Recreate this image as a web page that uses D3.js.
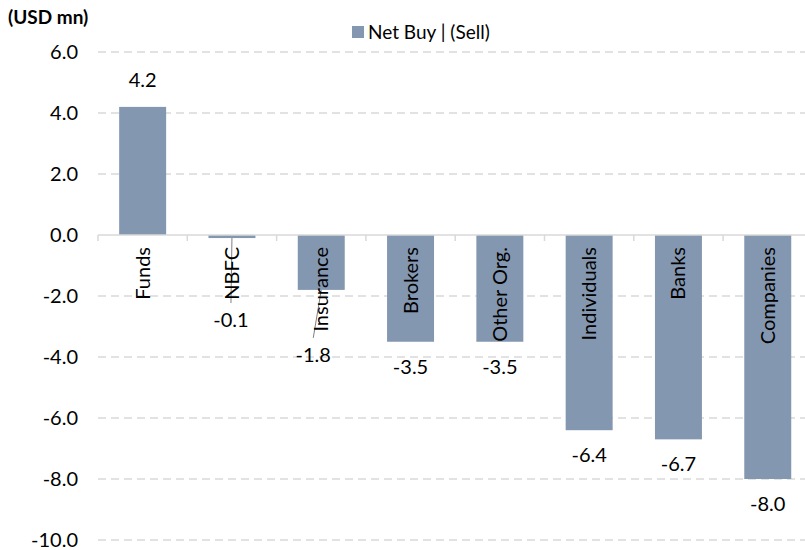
<!DOCTYPE html>
<html>
<head>
<meta charset="utf-8">
<script src="https://cdn.jsdelivr.net/npm/d3@7"></script>
<style>
  body { margin: 0; background: #fff; }
  svg { font-family: Lato, 'Open Sans', sans-serif; }
  .grid line { stroke: #d9d9d9; stroke-width: 1.5; stroke-dasharray: 8 5; }
  .tick-label { font-size: 20px; fill: #000; }
  .cat-label { font-size: 20px; fill: #000; }
  .val-label { font-size: 20px; fill: #000; }
</style>
</head>
<body>
<div id="chart"></div>
<script>
const categories = ['Funds', 'NBFC', 'Insurance', 'Brokers', 'Other Org.', 'Individuals', 'Banks', 'Companies'];
const netBuy = [4.2, -0.1, -1.8, -3.5, -3.5, -6.4, -6.7, -8.0];
const yTicks = [6, 4, 2, 0, -2, -4, -6, -8, -10];
const seriesName = 'Net Buy | (Sell)';
const unitLabel = '(USD mn)';

const width = 805, height = 550;
const barColor = '#8497b0';

// plain hyphen for negatives, like the original
const fmt = d => d3.format('.1f')(d).replace('\u2212', '-');

const svg = d3.select('#chart').append('svg')
    .attr('width', width)
    .attr('height', height);

const x = d3.scaleBand()
    .domain(categories)
    .range([98, 98 + 8 * 89.3])
    .paddingInner(0.474)
    .paddingOuter(0.237);

const y = d3.scaleLinear()
    .domain([-10, 6])
    .range([540, 52]);

// gridlines
svg.append('g')
    .attr('class', 'grid')
  .selectAll('line')
  .data(yTicks.filter(d => d !== 0))
  .enter().append('line')
    .attr('x1', 98)
    .attr('x2', width)
    .attr('y1', d => y(d))
    .attr('y2', d => y(d));

// y tick labels
svg.append('g')
  .selectAll('text')
  .data(yTicks)
  .enter().append('text')
    .attr('class', 'tick-label')
    .attr('x', 78)
    .attr('y', d => y(d))
    .attr('dy', '0.35em')
    .attr('text-anchor', 'end')
    .text(fmt);

// unit label
svg.append('text')
    .attr('x', 8)
    .attr('y', 24)
    .attr('font-size', 19)
    .attr('font-weight', 'bold')
    .text(unitLabel);

// bars
const data = categories.map((c, i) => ({cat: c, value: netBuy[i]}));

svg.append('g')
  .selectAll('rect')
  .data(data)
  .enter().append('rect')
    .attr('x', d => x(d.cat))
    .attr('width', x.bandwidth())
    .attr('y', d => y(Math.max(0, d.value)))
    .attr('height', d => Math.abs(y(d.value) - y(0)))
    .attr('fill', barColor);

// zero axis with ticks between categories
const axis = svg.append('g');
axis.append('line')
    .attr('x1', 98)
    .attr('x2', width)
    .attr('y1', y(0))
    .attr('y2', y(0))
    .attr('stroke', '#d9d9d9')
    .attr('stroke-width', 1.5);
axis.selectAll('.tk')
  .data(d3.range(categories.length + 1))
  .enter().append('line')
    .attr('x1', i => 98 + i * x.step())
    .attr('x2', i => 98 + i * x.step())
    .attr('y1', y(0))
    .attr('y2', y(0) + 6)
    .attr('stroke', '#d9d9d9')
    .attr('stroke-width', 1.5);

// value labels (two were dragged away by hand in the original, with leader lines)
const nudge = {NBFC: [-1, 57], Insurance: [-8, 40]};
const labelPos = d => {
  const [dx, dy] = nudge[d.cat] || [0, 0];
  const cx = x(d.cat) + x.bandwidth() / 2 + dx;
  const by = d.value >= 0 ? y(d.value) - 20 : y(d.value) + 32 + dy;
  return [cx, by];
};

svg.append('g')
  .selectAll('line')
  .data(data.filter(d => nudge[d.cat]))
  .enter().append('line')
    .attr('x1', d => x(d.cat) + x.bandwidth() / 2)
    .attr('y1', d => y(d.value))
    .attr('x2', d => labelPos(d)[0])
    .attr('y2', d => labelPos(d)[1] - 24)
    .attr('stroke', '#7f7f7f')
    .attr('stroke-width', 1);

// category labels, rotated
svg.append('g')
  .selectAll('text')
  .data(data)
  .enter().append('text')
    .attr('class', 'cat-label')
    .attr('transform', d => `translate(${x(d.cat) + x.bandwidth() / 2},247) rotate(-90)`)
    .attr('text-anchor', 'end')
    .attr('dy', '0.35em')
    .text(d => d.cat);

svg.append('g')
  .selectAll('text')
  .data(data)
  .enter().append('text')
    .attr('class', 'val-label')
    .attr('x', d => labelPos(d)[0])
    .attr('y', d => labelPos(d)[1])
    .attr('text-anchor', 'middle')
    .text(d => fmt(d.value));

// legend
const legend = svg.append('g');
legend.append('rect')
    .attr('x', 352)
    .attr('y', 26)
    .attr('width', 12)
    .attr('height', 12)
    .attr('fill', barColor);
legend.append('text')
    .attr('x', 368)
    .attr('y', 39)
    .attr('font-size', 19)
    .text(seriesName);
</script>
</body>
</html>
